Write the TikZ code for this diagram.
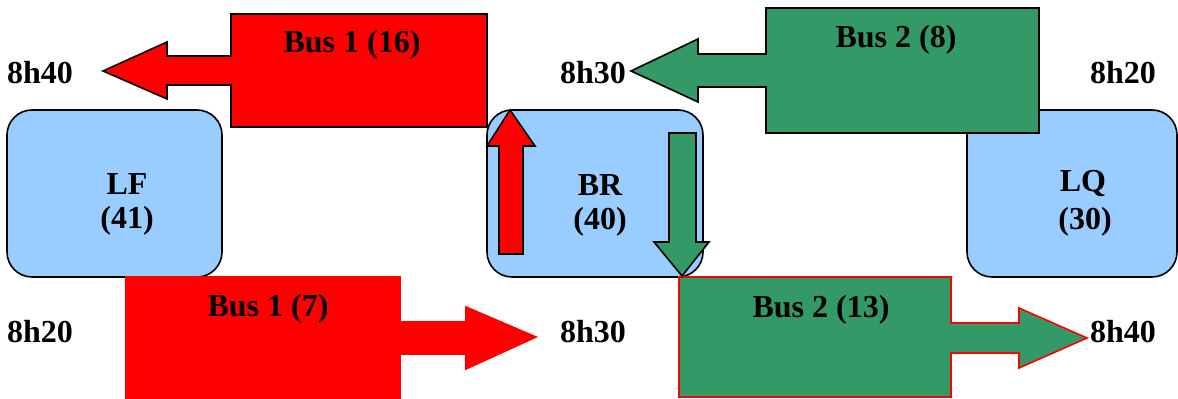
\documentclass[tikz,border=0pt]{standalone}
\usepackage{fontspec}
\setmainfont{Liberation Serif}
\definecolor{boxblue}{HTML}{99CCFF}
\definecolor{busgreen}{HTML}{339966}
\definecolor{busred}{HTML}{FF0000}
\begin{document}
\begin{tikzpicture}[x=0.5pt,y=-0.5pt,
  stopbox/.style={draw=black, line width=0.8pt, fill=boxblue, rounded corners=12.5pt},
  redbus/.style={fill=busred, draw=black, line width=0.8pt},
  greenbus/.style={fill=busgreen, draw=black, line width=0.8pt},
  lbl/.style={font=\bfseries\fontsize{16}{19}\selectfont, inner sep=0pt, text=black}]
\useasboundingbox (0,0) rectangle (1178,399);
% stops
\draw[stopbox] (7,110) rectangle (222,277);
\draw[stopbox] (487,110) rectangle (703,277);
\draw[stopbox] (967,110) rectangle (1177,277);
% Bus 1 (16)
\draw[redbus] (231,14) -- (487,14) -- (487,127) -- (231,127) -- (231,85) -- (167,85) -- (167,99) -- (103,71) -- (167,42) -- (167,56) -- (231,56) -- cycle;
% Bus 2 (8)
\draw[greenbus] (766,8) -- (1039,8) -- (1039,133) -- (766,133) -- (766,87) -- (698,87) -- (698,102) -- (631,71) -- (698,39) -- (698,54) -- (766,54) -- cycle;
% Bus 1 (7)
\draw[fill=busred, draw=busred, line width=0.8pt] (126,277) -- (400,277) -- (400,322) -- (466,322) -- (466,307) -- (536,337) -- (466,369) -- (466,354) -- (400,354) -- (400,398) -- (126,398) -- cycle;
% Bus 2 (13)
\draw[fill=busgreen, draw=busred, line width=0.8pt] (679,277) -- (951,277) -- (951,323) -- (1019,323) -- (1019,308) -- (1087,338) -- (1019,368) -- (1019,353) -- (951,353) -- (951,397) -- (679,397) -- cycle;
% arrows inside BR
\draw[redbus] (499,254) -- (523,254) -- (523,146) -- (535,146) -- (510,110) -- (487,146) -- (499,146) -- cycle;
\draw[greenbus] (669,133) -- (696,133) -- (696,242) -- (709,242) -- (682,276) -- (654,242) -- (669,242) -- cycle;
% texts
\node[lbl] (lf) at (127,184) {LF};
\node[lbl] (lfn) at (127,221) {(41)};
\node[lbl] (br) at (600,185) {BR};
\node[lbl] (brn) at (600,222) {(40)};
\node[lbl] (lq) at (1083,184) {LQ};
\node[lbl] (lqn) at (1085,222) {(30)};
\node[lbl] (b16) at (352,45) {Bus 1 (16)};
\node[lbl] (b8) at (896,40) {Bus 2 (8)};
\node[lbl] (b7) at (268,309) {Bus 1 (7)};
\node[lbl] (b13) at (821,310) {Bus 2 (13)};
\node[lbl] (t1) at (40,73) {8h40};
\node[lbl] (t2) at (593,73) {8h30};
\node[lbl] (t3) at (1123,73) {8h20};
\node[lbl] (t4) at (40,332) {8h20};
\node[lbl] (t5) at (593,332) {8h30};
\node[lbl] (t6) at (1123,332) {8h40};
\end{tikzpicture}
\end{document}
